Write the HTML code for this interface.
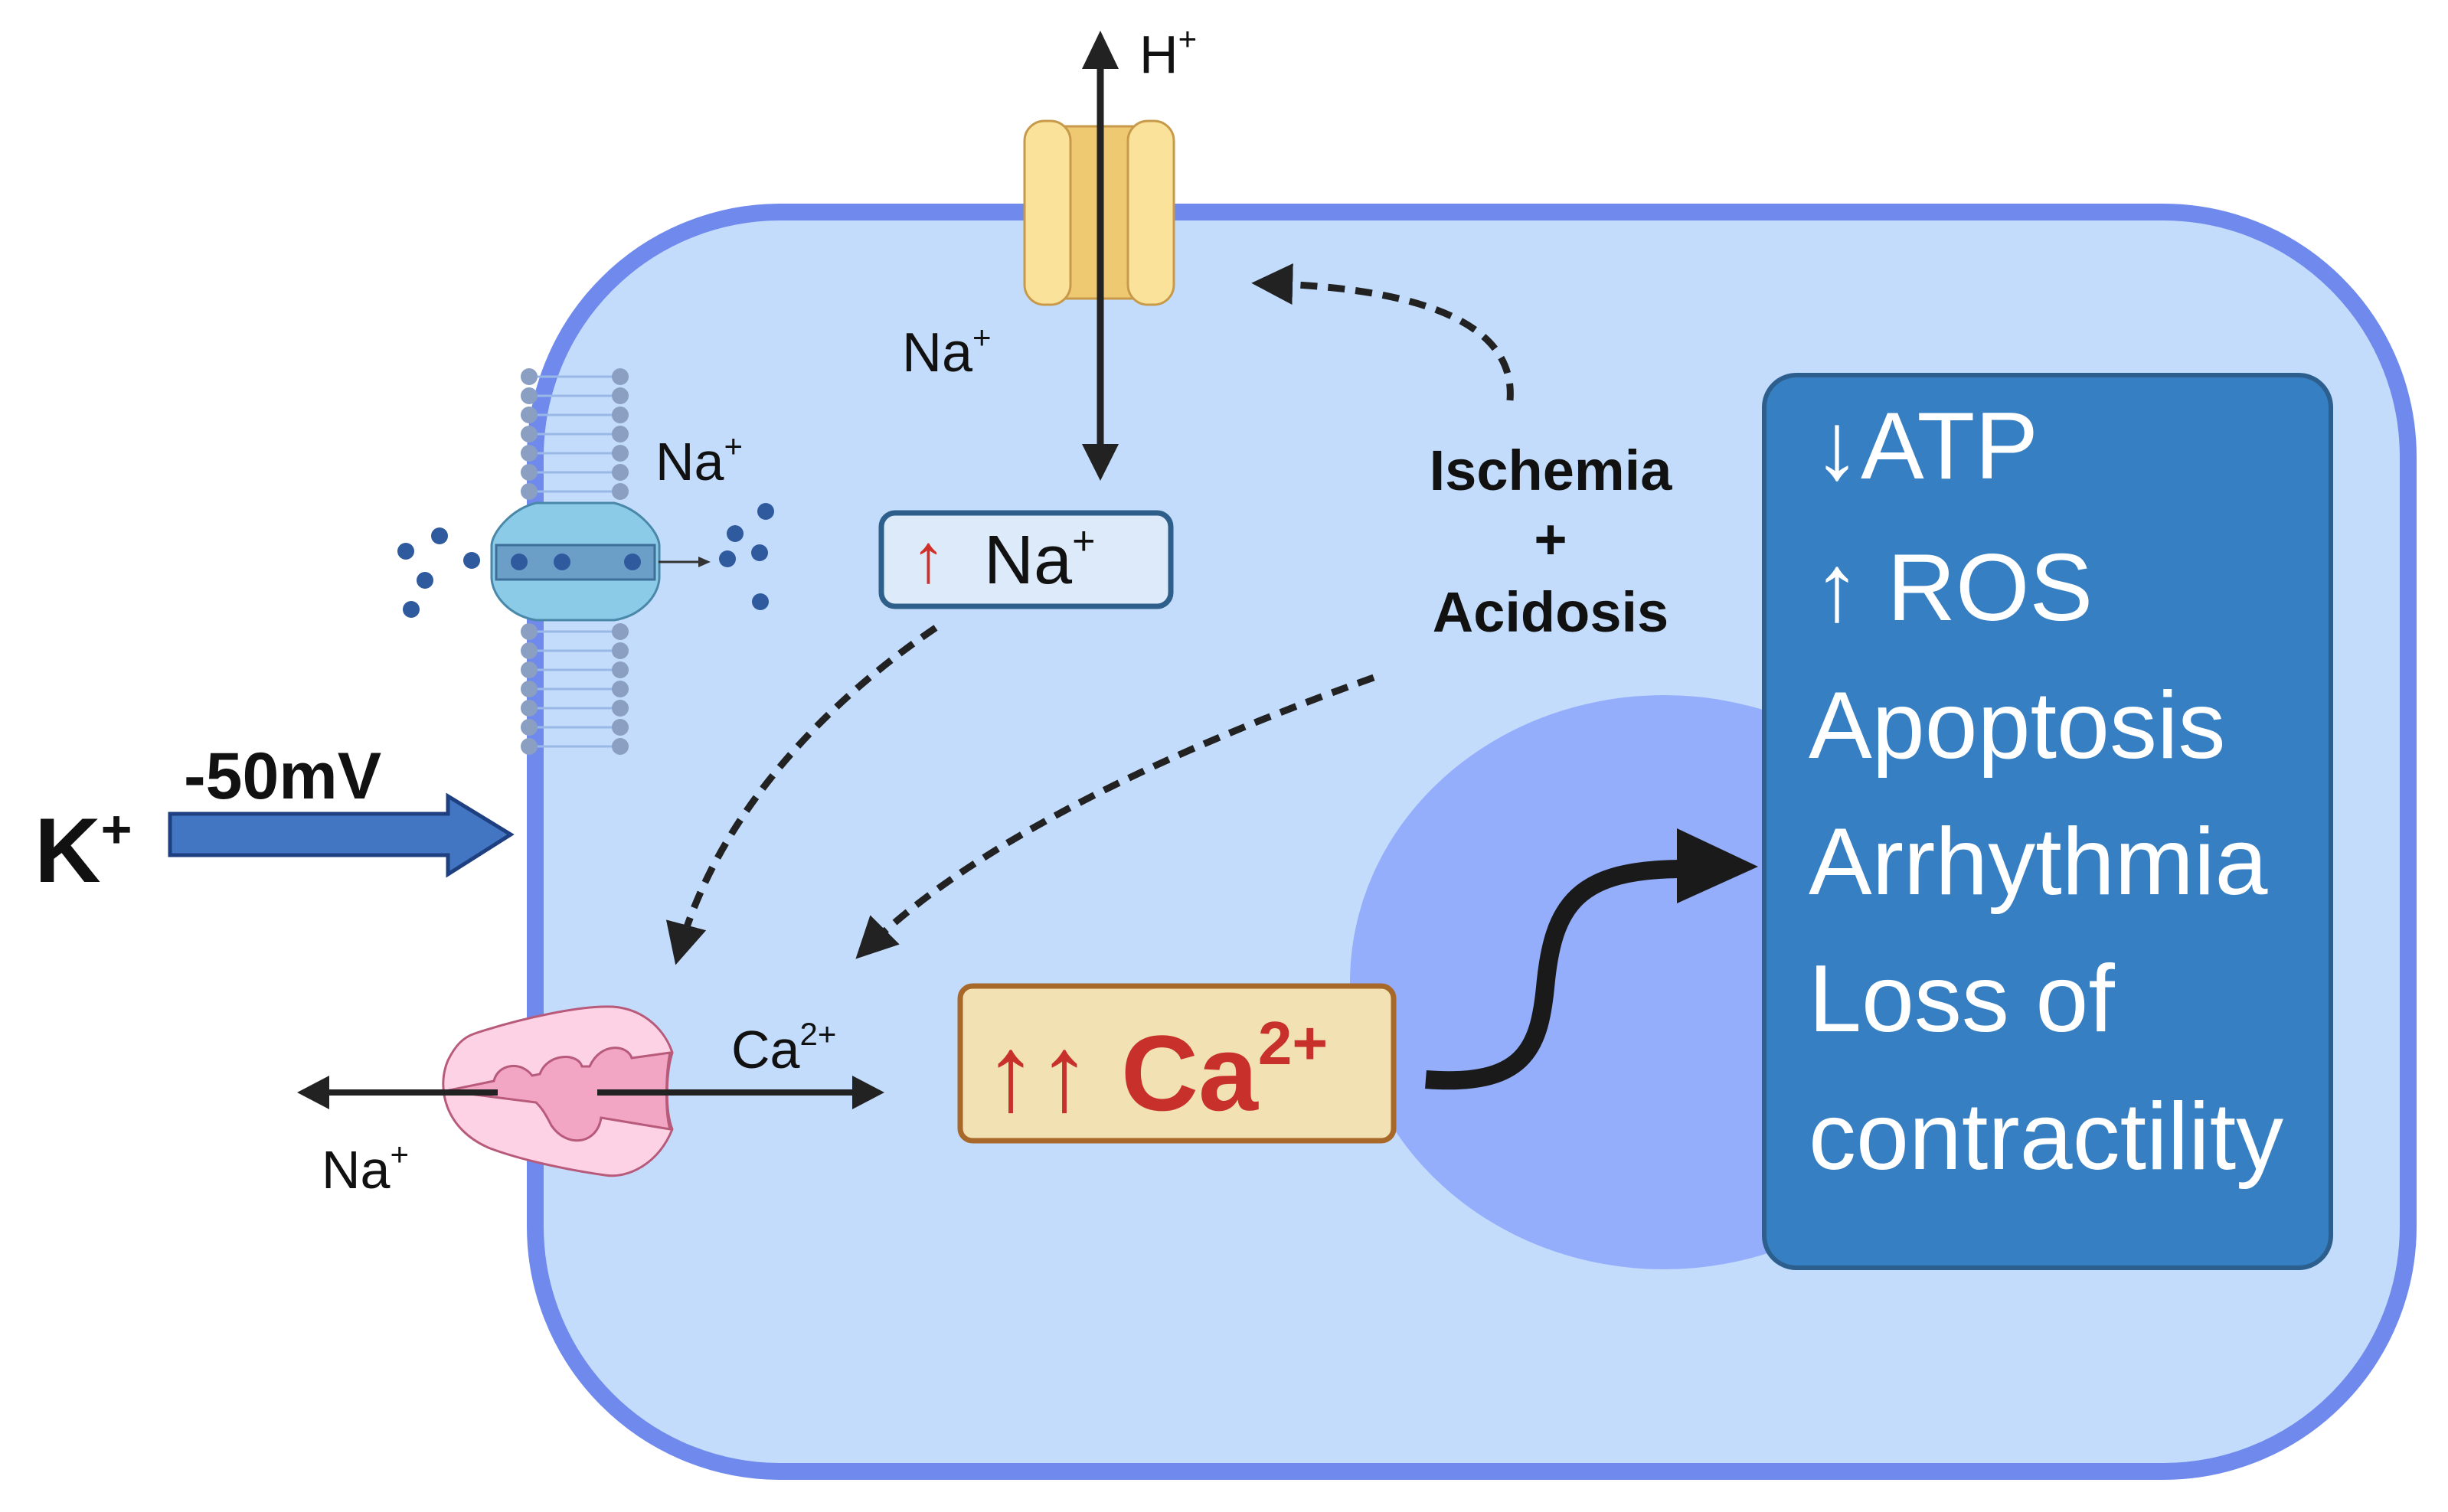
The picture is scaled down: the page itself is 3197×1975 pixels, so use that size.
<!DOCTYPE html>
<html><head><meta charset="utf-8"><style>
html,body{margin:0;padding:0;background:#fff;}
svg{display:block;}
text{font-family:"Liberation Sans",Arial,sans-serif;}
</style></head><body>
<svg width="3197" height="1975" viewBox="0 0 3197 1975" xmlns="http://www.w3.org/2000/svg">
<defs>
<marker id="ahd" viewBox="0 0 10 10" refX="8" refY="5" markerWidth="6" markerHeight="6" orient="auto">
<path d="M0,0 L10,5 L0,10 z" fill="#222"/></marker>
</defs>
<!-- cell -->
<rect x="699" y="277" width="2446" height="1645" rx="320" ry="320" fill="#c4dcfc" stroke="#6f8aec" stroke-width="22"/>
<!-- nucleus -->
<ellipse cx="2173" cy="1283" rx="410" ry="375" fill="#94aefc"/>
<!-- effect box -->
<rect x="2304" y="490" width="740" height="1166" rx="42" fill="#367fc2" stroke="#2c5f8e" stroke-width="6"/>
<g fill="#fff" font-size="124">
<text x="2368" y="625">↓ATP</text>
<text x="2368" y="810">↑ ROS</text>
<text x="2362" y="990">Apoptosis</text>
<text x="2362" y="1168">Arrhythmia</text>
<text x="2362" y="1347">Loss of</text>
<text x="2362" y="1527">contractility</text>
</g>
<!-- H+ channel -->
<g stroke="#c79a4a" stroke-width="3">
<path d="M1385,165 L1490,165 L1490,390 L1385,390 z" fill="#efc872"/>
<rect x="1338" y="158" width="60" height="240" rx="26" fill="#fbe29a"/>
<rect x="1473" y="158" width="60" height="240" rx="26" fill="#fbe29a"/>
</g>
<line x1="1437" y1="80" x2="1437" y2="590" stroke="#222" stroke-width="9"/>
<path d="M1437,40 L1413,90 L1461,90 z" fill="#222"/>
<path d="M1437,628 L1413,580 L1461,580 z" fill="#222"/>
<text x="1488" y="95" font-size="70" fill="#111">H<tspan font-size="42" dy="-30">+</tspan></text>
<text x="1178" y="485" font-size="72" fill="#111">Na<tspan font-size="42" dy="-30">+</tspan></text>
<!-- Na box -->
<rect x="1151" y="670" width="378" height="122" rx="18" fill="#dceaf9" stroke="#2d5f8a" stroke-width="7"/>
<text x="1190" y="760" font-size="90" fill="#d0302a">↑</text>
<text x="1285" y="762" font-size="90" fill="#111">Na<tspan font-size="52" dy="-38">+</tspan></text>
<!-- dashed arrows -->
<g fill="none" stroke="#222" stroke-width="9" stroke-dasharray="22 14">
<path d="M1222,820 C1060,930 930,1080 885,1250" marker-end="url(#ahd)"/>
<path d="M1972,523 C1980,420 1850,375 1645,370" marker-end="url(#ahd)"/>
<path d="M1794,885 C1500,990 1260,1110 1125,1245" marker-end="url(#ahd)"/>
</g>
<g font-size="74" font-weight="bold" fill="#111" text-anchor="middle">
<text x="2025" y="640">Ischemia</text>
<text x="2025" y="730">+</text>
<text x="2025" y="825">Acidosis</text>
</g>
<!-- Ca box -->
<rect x="1254" y="1288" width="566" height="202" rx="16" fill="#f1e1b3" stroke="#a8682a" stroke-width="7"/>
<text x="1285" y="1450" font-size="140" font-weight="bold" fill="#c8302c">↑↑ Ca<tspan font-size="80" dy="-60">2+</tspan></text>
<!-- curvy arrow -->
<path d="M1862,1410 C1990,1420 2010,1370 2018,1290 C2028,1180 2060,1135 2200,1135" fill="none" stroke="#1a1a1a" stroke-width="24"/>
<path d="M2296,1132 L2190,1082 L2190,1180 z" fill="#1a1a1a"/>
<!-- lipid bilayer -->
<g stroke="#9ab8e6" stroke-width="3" fill="none">
<path d="M700,492 H800 M700,517 H800 M700,542 H800 M700,567 H800 M700,592 H800 M700,617 H800 M700,642 H800 M700,825 H800 M700,850 H800 M700,875 H800 M700,900 H800 M700,925 H800 M700,950 H800 M700,975 H800"/>
</g>
<g fill="#8a9fc2">
<circle cx="691" cy="492" r="11"/><circle cx="691" cy="517" r="11"/><circle cx="691" cy="542" r="11"/><circle cx="691" cy="567" r="11"/><circle cx="691" cy="592" r="11"/><circle cx="691" cy="617" r="11"/><circle cx="691" cy="642" r="11"/>
<circle cx="810" cy="492" r="11"/><circle cx="810" cy="517" r="11"/><circle cx="810" cy="542" r="11"/><circle cx="810" cy="567" r="11"/><circle cx="810" cy="592" r="11"/><circle cx="810" cy="617" r="11"/><circle cx="810" cy="642" r="11"/>
<circle cx="691" cy="825" r="11"/><circle cx="691" cy="850" r="11"/><circle cx="691" cy="875" r="11"/><circle cx="691" cy="900" r="11"/><circle cx="691" cy="925" r="11"/><circle cx="691" cy="950" r="11"/><circle cx="691" cy="975" r="11"/>
<circle cx="810" cy="825" r="11"/><circle cx="810" cy="850" r="11"/><circle cx="810" cy="875" r="11"/><circle cx="810" cy="900" r="11"/><circle cx="810" cy="925" r="11"/><circle cx="810" cy="950" r="11"/><circle cx="810" cy="975" r="11"/>
</g>
<!-- Na channel -->
<path d="M700,657 H802 C835,665 860,695 861,712 V755 C860,780 835,805 802,810 H700 C668,805 643,780 642,755 V712 C643,695 668,665 700,657 z" fill="#8ccbe8" stroke="#4a88aa" stroke-width="3"/>
<rect x="648" y="712" width="207" height="45" fill="#6b9fc8" stroke="#3d6f98" stroke-width="3"/>
<g fill="#2f5a9e">
<circle cx="678" cy="734" r="11"/><circle cx="734" cy="734" r="11"/><circle cx="826" cy="734" r="11"/>
<circle cx="530" cy="720" r="11"/><circle cx="574" cy="700" r="11"/><circle cx="616" cy="732" r="11"/><circle cx="555" cy="758" r="11"/><circle cx="537" cy="796" r="11"/>
<circle cx="950" cy="730" r="11"/><circle cx="960" cy="697" r="11"/><circle cx="992" cy="722" r="11"/><circle cx="1000" cy="668" r="11"/><circle cx="993" cy="786" r="11"/>
</g>
<line x1="860" y1="734" x2="915" y2="734" stroke="#333" stroke-width="3"/>
<path d="M928,734 L912,727 L912,741 z" fill="#333"/>
<text x="856" y="627" font-size="70" fill="#111">Na<tspan font-size="42" dy="-30">+</tspan></text>
<!-- K+ arrow -->
<path d="M222,1063 H585 V1040 L667,1090 L585,1142 V1117 H222 z" fill="#4275c2" stroke="#1e3f80" stroke-width="5"/>
<text x="45" y="1152" font-size="120" font-weight="bold" fill="#111">K<tspan font-size="70" dy="-45">+</tspan></text>
<text x="240" y="1043" font-size="86" font-weight="bold" fill="#111">-50mV</text>
<!-- exchanger -->
<path d="M620,1350 C680,1330 760,1313 800,1315 C845,1318 870,1350 878,1375 C870,1400 868,1450 878,1475 C860,1520 820,1540 790,1535 C740,1528 680,1515 640,1500 C580,1475 570,1420 585,1385 C595,1365 605,1355 620,1350 z" fill="#fcd2e4" stroke="#b85a7a" stroke-width="3"/>
<path d="M582,1425 L645,1412 C650,1390 680,1385 695,1405 L705,1403 C715,1375 755,1375 760,1393 L770,1393 C785,1360 820,1365 825,1382 L875,1375 C870,1400 868,1450 875,1475 L785,1460 C780,1495 740,1500 720,1470 C710,1450 705,1445 700,1440 L700,1440 z" fill="#f2a6c4" stroke="#b85a7a" stroke-width="3"/>
<line x1="430" y1="1427" x2="650" y2="1427" stroke="#222" stroke-width="8"/>
<line x1="780" y1="1427" x2="1115" y2="1427" stroke="#222" stroke-width="8"/>
<path d="M388,1427 L430,1405 L430,1449 z" fill="#222"/>
<path d="M1155,1427 L1113,1405 L1113,1449 z" fill="#222"/>
<text x="955" y="1395" font-size="70" fill="#111">Ca<tspan font-size="42" dy="-30">2+</tspan></text>
<text x="420" y="1552" font-size="70" fill="#111">Na<tspan font-size="42" dy="-30">+</tspan></text>
</svg>
</body></html>
